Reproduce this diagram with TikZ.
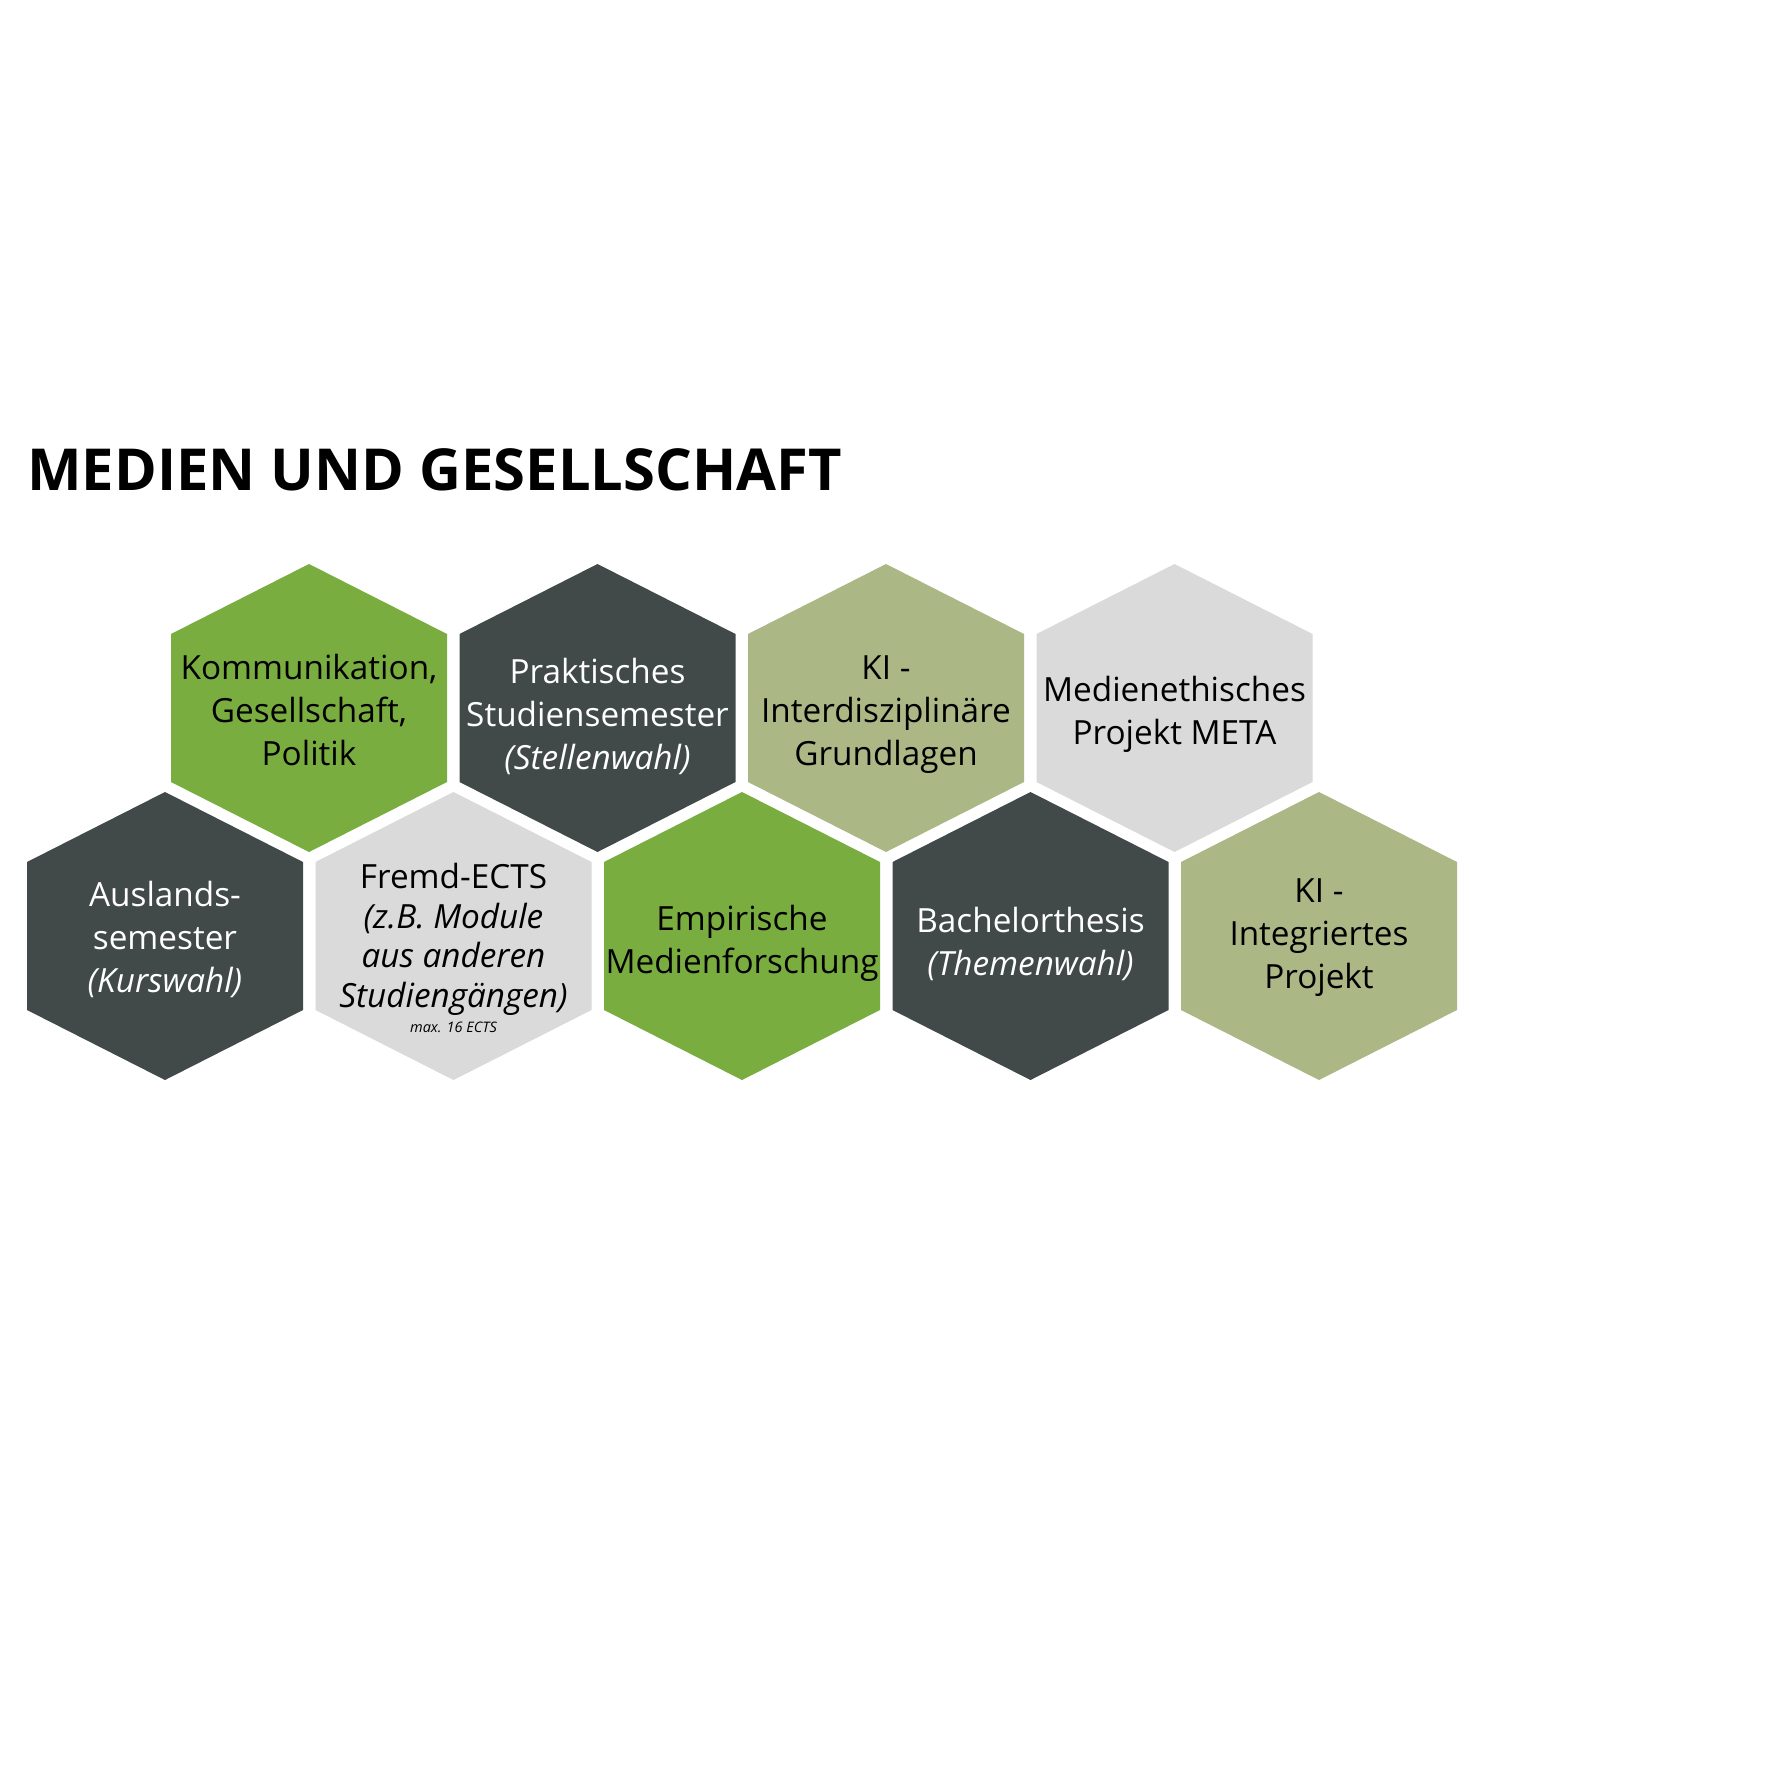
\documentclass[tikz,border=0pt]{standalone}
\usepackage{fontspec}
\setmainfont{Open Sans}
\definecolor{hgreen}{HTML}{7AAD40}
\definecolor{hdark}{HTML}{414A48}
\definecolor{holive}{HTML}{ACB786}
\definecolor{hlight}{HTML}{DADADA}
\newcommand\hexshape[3]{\fill[#1] (#2-138,#3-74) -- (#2,#3-144) -- (#2+138,#3-74) -- (#2+138,#3+74) -- (#2,#3+144) -- (#2-138,#3+74) -- cycle;}
\begin{document}
\begin{tikzpicture}[x=1pt,y=-1pt,
  hextext/.style={align=center, inner sep=0pt, font=\fontsize{33.3}{43}\selectfont},
  ontdark/.style={hextext, text=white},
  onlight/.style={hextext, text=black},
  titlestyle/.style={anchor=base west, inner sep=0pt, font=\fontsize{57.9}{70}\selectfont\bfseries}]
\useasboundingbox (0,0) rectangle (1779,1779);
\fill[white] (0,0) rectangle (1779,1779);
\node[titlestyle] (title) at (27,490) {MEDIEN UND GESELLSCHAFT};
% row 1
\hexshape{hgreen}{309}{708}
\hexshape{hdark}{597.5}{708}
\hexshape{holive}{886}{708}
\hexshape{hlight}{1174.5}{708}
% row 2
\hexshape{hdark}{165}{936}
\hexshape{hlight}{453.5}{936}
\hexshape{hgreen}{742}{936}
\hexshape{hdark}{1030.5}{936}
\hexshape{holive}{1319}{936}
% texts
\node[onlight] (kom) at (309,710) {Kommunikation,\\Gesellschaft,\\Politik};
\node[ontdark] (prak) at (597.5,716) {Praktisches\\Studiensemester\\\itshape(Stellenwahl)};
\node[onlight] (kiint) at (886,715) {KI -\\Interdisziplinäre\\Grundlagen};
\node[onlight] (meta) at (1174.5,714) {Medienethisches\\Projekt META};
\node[ontdark] (ausl) at (165,939) {Auslands-\\semester\\\itshape(Kurswahl)};
\node[onlight, font=\fontsize{33.3}{39.5}\selectfont] (fremd) at (453.5,948) {Fremd-ECTS\\\itshape(z.B. Module\\\itshape aus anderen\\\itshape Studiengängen)\\[-14pt]{\fontsize{14.5}{16}\selectfont\itshape max. 16 ECTS}};
\node[onlight] (emp) at (742,943) {Empirische\\Medienforschung};
\node[ontdark] (bach) at (1030.5,944) {Bachelorthesis\\\itshape(Themenwahl)};
\node[onlight] (kiproj) at (1319,938) {KI -\\Integriertes\\Projekt};
\end{tikzpicture}
\end{document}
